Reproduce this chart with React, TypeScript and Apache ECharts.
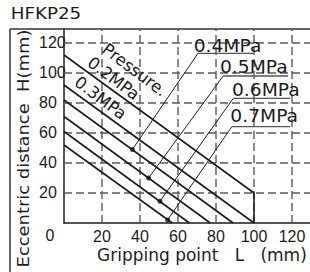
import React, { useEffect, useRef } from "react";
import * as echarts from "echarts";

// ---- data ----
const chartTitle = "HFKP25";
const xTitle = "Gripping point   L   (mm)";
const yTitle = "Eccentric distance  H(mm)";
const xTicks = [20, 40, 60, 80, 100, 120];
const yTicks = [20, 40, 60, 80, 100, 120];
const xMax = 129.47;
const yMax = 129.33;

// pressure lines: [L, H] points
const lineTop = [[0, 112], [100, 20], [100, 0]];
const line2 = [[0, 92], [100, 0]];
const line3 = [[0, 82], [89, 0]];
const line4 = [[0, 71], [77, 0]];
const line5 = [[0, 61], [66, 0]];
const line6 = [[0, 52], [57, 0]];
const pressureLines = [lineTop, line2, line3, line4, line5, line6];

// callouts for 0.4 .. 0.7 MPa
const calloutNames = ["0.4MPa", "0.5MPa", "0.6MPa", "0.7MPa"];
const markL = [36, 44.5, 50.5, 54.5];
const markH = [49, 30, 14.5, 2];
const calloutL = [70.5, 83.8, 89.1, 88.3];
const calloutH = [113.1, 98, 83.1, 64.2];
const underlineEndL = [99.5, 118, 119, 119];

// rotated labels
const slantLabels = ["Pressure.", "0.2MPa", "0.3MPa"];

const DARK = "#1c1c1c";
const FONT = "DejaVu Sans";
const NUMFONT = "Liberation Sans";

export default function App() {
  const ref = useRef<HTMLDivElement>(null);
  useEffect(() => {
    const chart = echarts.init(ref.current!, null, { renderer: "svg" });

    // grid rows: [orientation (0 = vertical line at L, 1 = horizontal line at H), value]
    const gridData = [
      ...xTicks.map((v) => [0, v]),
      ...yTicks.map((v) => [1, v]),
    ];

    const series: any[] = [
      {
        type: "custom",
        silent: true,
        z: 2,
        data: gridData,
        encode: { x: -1, y: -1 },
        renderItem: (params: any, api: any) => {
          const kind = api.value(0);
          const v = api.value(1);
          let p1, p2;
          if (kind === 0) {
            p1 = api.coord([v, 0]);
            p2 = api.coord([v, yMax]);
          } else {
            p1 = api.coord([0, v]);
            p2 = api.coord([xMax, v]);
          }
          return {
            type: "line",
            shape: { x1: p1[0], y1: p1[1], x2: p2[0], y2: p2[1] },
            style: { stroke: "#5a5a5a", lineWidth: 1.4, lineDash: [8, 4] },
          };
        },
      },
    ];
    pressureLines.forEach((pts) => {
      series.push({
        type: "line",
        data: pts,
        symbol: "none",
        silent: true,
        lineStyle: { color: DARK, width: 1.6 },
        z: 3,
      });
    });
    calloutNames.forEach((name, i) => {
      series.push({
        type: "line",
        data: [
          [markL[i], markH[i]],
          [calloutL[i], calloutH[i]],
        ],
        symbol: "none",
        lineStyle: { color: "#222", width: 1 },
        z: 3,
      });
      series.push({
        type: "line",
        data: [
          [calloutL[i], calloutH[i]],
          [underlineEndL[i], calloutH[i]],
        ],
        symbol: "none",
        lineStyle: { color: "#555", width: 1.3 },
        z: 3,
      });
    });
    series.push({
      type: "scatter",
      data: markL.map((l, i) => [l, markH[i]]),
      symbol: "circle",
      symbolSize: 5,
      itemStyle: { color: "#111" },
      z: 4,
    });

    const slantPos = [
      [134.5, 70],
      [113.5, 78.5],
      [100.5, 98],
    ];
    const calloutPos = [
      [227.5, 45.5],
      [253.8, 67.2],
      [265.8, 90],
      [264.2, 116.3],
    ];

    const graphic: any[] = [
      {
        type: "text",
        x: 10.7,
        y: 13.7,
        scaleX: 1.22,
        style: {
          text: chartTitle,
          fontSize: 15,
          fontFamily: FONT,
          fill: DARK,
          align: "left",
          verticalAlign: "middle",
        },
      },
      {
        type: "text",
        x: 97,
        y: 254.5,
        style: {
          text: xTitle,
          fontSize: 17,
          fontFamily: FONT,
          fill: DARK,
          align: "left",
          verticalAlign: "middle",
        },
      },
      {
        type: "text",
        x: 23,
        y: 148.5,
        rotation: Math.PI / 2,
        scaleX: 1.12,
        style: {
          text: yTitle,
          fontSize: 16,
          fontFamily: FONT,
          fill: DARK,
          align: "center",
          verticalAlign: "middle",
        },
      },
      {
        type: "text",
        x: 50,
        y: 235.5,
        style: {
          text: "0",
          fontSize: 16,
          fontFamily: NUMFONT,
          fill: DARK,
          align: "center",
          verticalAlign: "middle",
        },
      },
      {
        type: "line",
        shape: { x1: 10, y1: 29, x2: 310, y2: 29 },
        style: { stroke: "#333", lineWidth: 1.5 },
        z: 10,
      },
      {
        type: "line",
        shape: { x1: 10, y1: 29, x2: 10, y2: 272 },
        style: { stroke: "#333", lineWidth: 1.5 },
        z: 10,
      },
    ];
    slantLabels.forEach((t, i) => {
      graphic.push({
        type: "text",
        x: slantPos[i][0],
        y: slantPos[i][1],
        rotation: (-37 * Math.PI) / 180,
        style: {
          text: t,
          fontSize: 16.5,
          fontFamily: FONT,
          fill: DARK,
          align: "center",
          verticalAlign: "middle",
        },
        z: 10,
      });
    });
    calloutNames.forEach((t, i) => {
      graphic.push({
        type: "text",
        x: calloutPos[i][0],
        y: calloutPos[i][1],
        scaleX: 1.1,
        style: {
          text: t,
          fontSize: 17,
          fontFamily: FONT,
          fill: DARK,
          align: "center",
          verticalAlign: "middle",
        },
        z: 10,
      });
    });

    chart.setOption({
      animation: false,
      backgroundColor: "#ffffff",
      grid: { left: 64, top: 29, right: 0, bottom: 49, containLabel: false },
      xAxis: {
        type: "value",
        min: 0,
        max: xMax,
        interval: 20,
        axisLine: { show: true, lineStyle: { color: DARK, width: 1.5 } },
        axisTick: { show: false },
        splitLine: { show: false },
        axisLabel: {
          showMinLabel: false,
          showMaxLabel: false,
          fontSize: 16,
          fontFamily: NUMFONT,
          color: DARK,
          margin: 5,
          formatter: (v: number) => (xTicks.includes(v) ? String(v) : ""),
        },
      },
      yAxis: {
        type: "value",
        min: 0,
        max: yMax,
        interval: 20,
        axisLine: { show: true, lineStyle: { color: DARK, width: 1.5 } },
        axisTick: { show: false },
        splitLine: { show: false },
        axisLabel: {
          showMinLabel: false,
          showMaxLabel: false,
          fontSize: 16,
          fontFamily: NUMFONT,
          color: DARK,
          align: "left",
          margin: 25,
          formatter: (v: number) => (yTicks.includes(v) ? String(v) : ""),
        },
      },
      series,
      graphic,
    });
    return () => chart.dispose();
  }, []);
  return (
    <div
      ref={ref}
      style={{ position: "absolute", left: 0, top: 0, width: 310, height: 272 }}
    />
  );
}
